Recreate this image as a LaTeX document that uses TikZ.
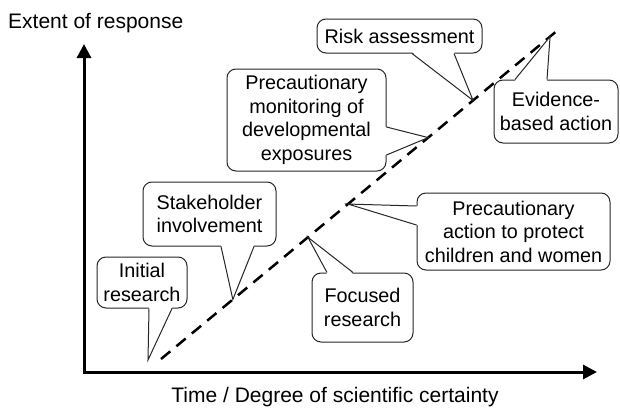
\documentclass[tikz,border=0pt]{standalone}
\usepackage{fontspec}
\setmainfont{Liberation Sans}
\usetikzlibrary{calc,arrows.meta}

\begin{document}
\begin{tikzpicture}[x=1pt, y=-1pt, >={Triangle[width=14pt,length=14pt]},
    bubble/.style={draw=black!85, line width=1pt, fill=white, rounded corners=9pt,
      align=center, inner sep=0pt, font=\fontsize{19.8}{23.5}\selectfont},
    tail/.style={draw=black!85, line width=1pt, line join=miter}]
    \useasboundingbox (0,0) rectangle (620,407);
    % axes
    \draw[line width=3pt, <->] (84,44) -- (84,372) -- (597,372);
    \node[anchor=base west, inner sep=0pt, font=\fontsize{21}{25}\selectfont] (ylab) at (8,28) {Extent of response};
    \node[anchor=base, inner sep=0pt, font=\fontsize{21}{25}\selectfont] (xlab) at (335,402) {Time / Degree of scientific certainty};
    % response line
    \coordinate (lo) at (161,359);
    \coordinate (hi) at (558,30);
    \draw[line width=2.5pt, dash pattern=on 12pt off 8pt] (lo) -- (hi);
    \coordinate (t1) at (148,360);
    \coordinate (t2) at ($(lo)!0.181!(hi)$);
    \coordinate (t3) at ($(lo)!0.370!(hi)$);
    \coordinate (t4) at ($(lo)!0.471!(hi)$);
    \coordinate (t5) at ($(lo)!0.673!(hi)$);
    \coordinate (t6) at ($(lo)!0.786!(hi)$);
    \coordinate (t7) at ($(lo)!0.980!(hi)$);
    % callouts
    \node[bubble, minimum width=90pt, minimum height=51pt] (init) at (142,282.5) {Initial\\research};
    \fill[white] ([xshift=7pt,yshift=1.5pt]init.south) -- (t1) -- ([xshift=30pt,yshift=1.5pt]init.south) -- cycle;
    \draw[tail] ([xshift=7pt]init.south) -- (t1) -- ([xshift=30pt]init.south);

    \node[bubble, minimum width=133pt, minimum height=64pt] (stake) at (209.5,214) {Stakeholder\\involvement};
    \fill[white] ([xshift=11.5pt,yshift=1.5pt]stake.south) -- (t2) -- ([xshift=44.5pt,yshift=1.5pt]stake.south) -- cycle;
    \draw[tail] ([xshift=11.5pt]stake.south) -- (t2) -- ([xshift=44.5pt]stake.south);

    \node[bubble, minimum width=101pt, minimum height=69pt] (focus) at (362.5,307.5) {Focused\\research};
    \fill[white] ([xshift=-35.5pt,yshift=-1.5pt]focus.north) -- (t3) -- ([xshift=-9.5pt,yshift=-1.5pt]focus.north) -- cycle;
    \draw[tail] ([xshift=-35.5pt]focus.north) -- (t3) -- ([xshift=-9.5pt]focus.north);

    \node[bubble, minimum width=193pt, minimum height=77pt] (protect) at (513.5,231.5) {Precautionary\\action to protect\\children and women};
    \fill[white] ([xshift=1.5pt,yshift=25.5pt]protect.west) -- (t4) -- ([xshift=1.5pt,yshift=6.5pt]protect.west) -- cycle;
    \draw[tail] ([yshift=25.5pt]protect.west) -- (t4) -- ([yshift=6.5pt]protect.west);

    \node[bubble, minimum width=159pt, minimum height=102pt] (monit) at (306.5,120) {Precautionary\\monitoring of\\developmental\\exposures};
    \fill[white] ([xshift=-1.5pt,yshift=-7pt]monit.east) -- (t5) -- ([xshift=-1.5pt,yshift=-35pt]monit.east) -- cycle;
    \draw[tail] ([yshift=-7pt]monit.east) -- (t5) -- ([yshift=-35pt]monit.east);

    \node[bubble, minimum width=165pt, minimum height=34pt] (risk) at (399.5,36) {Risk assessment};
    \fill[white] ([xshift=12.5pt,yshift=1.5pt]risk.south) -- (t6) -- ([xshift=54.5pt,yshift=1.5pt]risk.south) -- cycle;
    \draw[tail] ([xshift=12.5pt]risk.south) -- (t6) -- ([xshift=54.5pt]risk.south);

    \node[bubble, minimum width=124pt, minimum height=63pt] (evid) at (556,111.5) {Evidence-\\based action};
    \fill[white] ([xshift=-41pt,yshift=-1.5pt]evid.north) -- (t7) -- ([xshift=-9pt,yshift=-1.5pt]evid.north) -- cycle;
    \draw[tail] ([xshift=-41pt]evid.north) -- (t7) -- ([xshift=-9pt]evid.north);
\end{tikzpicture}
\end{document}
